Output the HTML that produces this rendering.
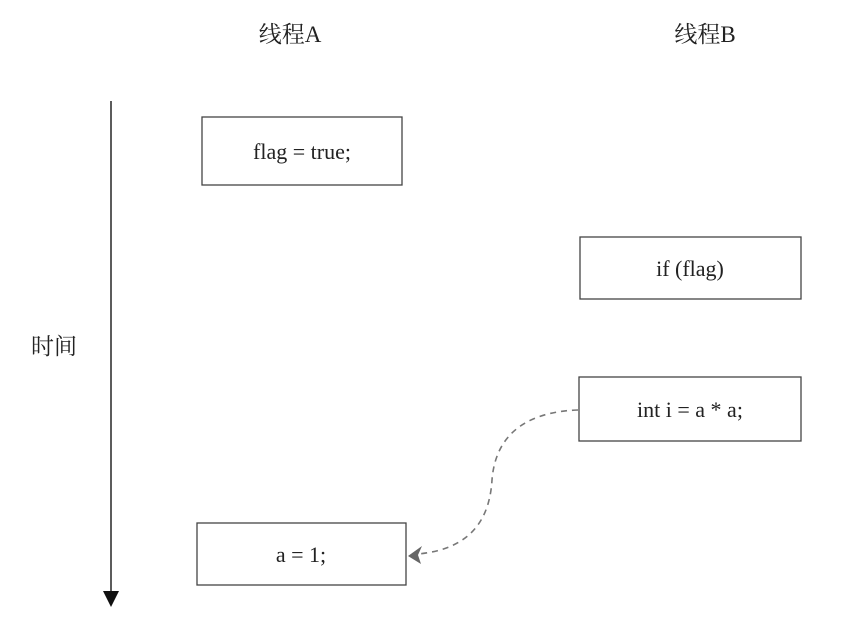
<!DOCTYPE html>
<html><head><meta charset="utf-8"><style>
html,body{margin:0;padding:0;background:#fff;}
svg{display:block}
text{font-family:"Liberation Serif","Noto Serif CJK SC",serif;fill:#222}
</style></head><body>
<svg width="864" height="622" viewBox="0 0 864 622" xmlns="http://www.w3.org/2000/svg">
<text x="290" y="42" font-size="23" text-anchor="middle">线程A</text>
<text x="705" y="42" font-size="23" text-anchor="middle">线程B</text>
<text x="54" y="354" font-size="23" text-anchor="middle">时间</text>
<line x1="111" y1="101" x2="111" y2="593" stroke="#333" stroke-width="1.6"/>
<polygon points="103,591 119,591 111,607" fill="#111"/>
<g fill="#fff" stroke="#444" stroke-width="1.3">
<rect x="202" y="117" width="200" height="68"/>
<rect x="580" y="237" width="221" height="62"/>
<rect x="579" y="377" width="222" height="64"/>
<rect x="197" y="523" width="209" height="62"/>
</g>
<g font-size="22" text-anchor="middle">
<text x="302" y="159">flag = true;</text>
<text x="690" y="276">if (flag)</text>
<text x="690" y="417">int i = a * a;</text>
<text x="301" y="562">a = 1;</text>
</g>
<path d="M578,410 C520,412 495,440 492,480 C489,530 460,550 418,554" fill="none" stroke="#777" stroke-width="1.6" stroke-dasharray="6,5"/>
<polygon points="408,556 422,546 418,555 421,564" fill="#666"/>
</svg>
</body></html>
